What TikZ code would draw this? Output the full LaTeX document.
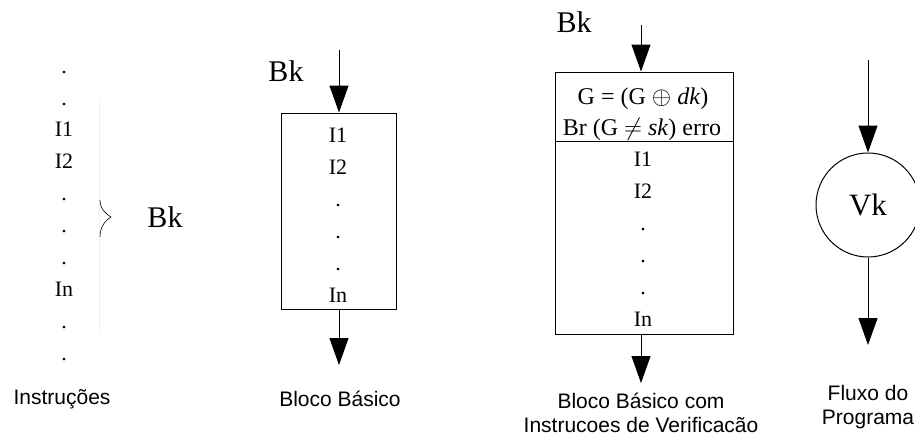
\documentclass[tikz,border=0pt]{standalone}
\usepackage{fontspec}
\setmainfont{Liberation Serif}
\newfontfamily\labelfont{Liberation Sans}
\usetikzlibrary{arrows.meta}
\tikzset{
  flow/.style={line width=1pt,-{Triangle[length=27pt,width=19pt]}},
  instr/.style={font=\fontsize{22}{24}\selectfont,inner sep=0pt,anchor=base},
  blk/.style={draw,line width=1pt,inner sep=0pt},
  caption/.style={font=\labelfont\fontsize{21}{24}\selectfont,align=center,inner sep=0pt},
  tag/.style={font=\fontsize{30}{34}\selectfont,inner sep=0pt}
}
\begin{document}
\begin{tikzpicture}[x=1pt,y=-1pt]
\useasboundingbox (0,0) rectangle (915,439);
% instrucoes
\foreach \t [count=\i] in {.,.,I1,I2,.,.,.,In,.,.}
  \node[instr] (l\i) at (64,{41.2+31.9*\i}) {\t};
\draw [color=black!6,line width=0.5pt] (99,98)-- (99,333);
\draw [line width=0.6pt] (100,200) .. controls (100,209) and (106,214) .. (111,217)
  .. controls (106,220) and (100,226) .. (100,237);
\node[tag] (bk1) at (165,217) {Bk};
\node[caption] (cap1) at (62,399) {Instruções};
% bloco basico
\node[blk,minimum width=115pt,minimum height=196pt] (box2) at (338.5,211) {};
\foreach \t [count=\i] in {I1,I2,.,.,.,In}
  \node[instr] (b\i) at (338,{110+32*\i}) {\t};
\node[tag] (bk2) at (286,71) {Bk};
\coordinate (in2) at (339,50);
\coordinate (out2) at (339,365);
\draw[flow] (in2) -- (in2 |- box2.north);
\draw[flow] (in2 |- box2.south) -- (out2);
\node[caption] (cap2) at (340,399) {Bloco Básico};
% bloco basico com verificacao
\node[blk,minimum width=178pt,minimum height=262pt] (box3) at (644,203) {};
\draw [line width=1pt] (box3.west |- 0,141)-- (box3.east |- 0,141);
\node[instr,font=\fontsize{24}{26}\selectfont] (g1) at (643,104) {G = (G $\oplus$ \textit{dk})};
\node[instr,font=\fontsize{24}{26}\selectfont] (g2) at (642,135) {Br (G $\neq$ \textit{sk}) erro};
\foreach \t [count=\i] in {I1,I2,.,.,.,In}
  \node[instr] (c\i) at (643,{134+32*\i}) {\t};
\node[tag] (bk3) at (574,22) {Bk};
\coordinate (in3) at (641,25);
\coordinate (out3) at (641,383);
\draw[flow] (in3) -- (in3 |- box3.north);
\draw[flow] (in3 |- box3.south) -- (out3);
\node[caption] (cap3) at (641,413) {Bloco Básico com\\Instrucoes de Verificacão};
% fluxo
\node[draw,circle,line width=1pt,minimum size=104pt,inner sep=0pt,
  font=\fontsize{31}{34}\selectfont] (vk) at (868,205) {Vk};
\coordinate (in4) at (868,60);
\coordinate (out4) at (868,345);
\draw[flow] (in4) -- (vk.north);
\draw[flow] (vk.south) -- (out4);
\node[caption] (cap4) at (868,407) {Fluxo do\\Programa};
\end{tikzpicture}
\end{document}
